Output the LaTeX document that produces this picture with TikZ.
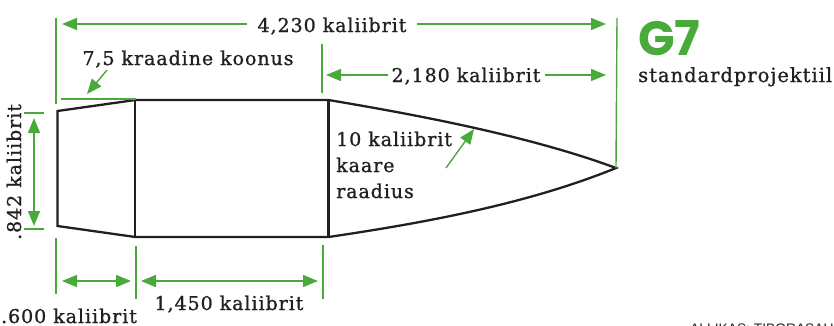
\documentclass[tikz,border=0pt]{standalone}
\usepackage{fontspec}
\setmainfont[LetterSpace=5,FakeBold=1]{DejaVu Serif}
\newfontfamily\creditfont{Liberation Sans}
\newfontfamily\markfont{Poppins}
\usetikzlibrary{arrows.meta}
\definecolor{dimgreen}{HTML}{4AA93B}
\definecolor{inkblack}{HTML}{231F20}
\tikzset{
  dimline/.style={draw=dimgreen,line width=1.4pt},
  dimarrow/.style={dimline,-{Triangle[length=15pt,width=12pt]}},
  dimboth/.style={dimline,{Triangle[length=15pt,width=12pt]}-{Triangle[length=15pt,width=12pt]}},
  hull/.style={draw=inkblack,line width=2.3pt,line join=miter},
  dimlabel/.style={font=\fontsize{19}{19}\selectfont,text=inkblack,inner sep=0pt,anchor=base}
}
\begin{document}
\begin{tikzpicture}[x=1pt,y=-1pt]
  \useasboundingbox (0,0) rectangle (834,325);
  % projectile outline
  \coordinate (tailtop) at (57.5,111);
  \coordinate (tailbot) at (57.5,226);
  \coordinate (bodytl) at (135.3,100);
  \coordinate (bodybl) at (135.3,237);
  \coordinate (bodytr) at (328.5,100);
  \coordinate (bodybr) at (328.5,237);
  \coordinate (tip) at (616,168);
  \draw[hull] (tailtop)--(bodytl)--(bodytr)
    .. controls (430,117) and (535,138) .. (tip)
    .. controls (530,203) and (430,222) .. (bodybr)
    --(bodybl)--(tailbot)--cycle;
  \draw[hull] (bodytl)--(bodybl);
  \draw[hull] (bodytr)--(bodybr);
  % labels
  \path (332,32) node[dimlabel] (total) {4,230 kaliibrit};
  \path (188,65) node[dimlabel] (cone) {7,5 kraadine koonus};
  \path (466,82) node[dimlabel] (nose) {2,180 kaliibrit};
  \path (21,172) node[dimlabel,rotate=90] (boat) {.842 kaliibrit};
  \path (69,323) node[dimlabel] (tail) {.600 kaliibrit};
  \path (229,310) node[dimlabel] (body) {1,450 kaliibrit};
  \path (336,146) node[dimlabel,anchor=base west] (arcone) {10 kaliibrit};
  \path (336,172) node[dimlabel,anchor=base west] (arctwo) {kaare};
  \path (336,198) node[dimlabel,anchor=base west] (arcthree) {raadius};
  \path (638,55) node[anchor=base west,inner sep=0pt,text=dimgreen,font=\markfont\fontsize{48}{48}\selectfont\bfseries] (gseven) {G7};
  \path (638,82) node[dimlabel,anchor=base west,font=\fontsize{19.5}{19.5}\selectfont] (standard) {standardprojektiil};
  \path (690,333) node[anchor=base west,inner sep=0pt,text=inkblack,font=\creditfont\fontsize{13.8}{14}\selectfont] (credit) {ALLIKAS: TIBORASAU};
  % extension lines
  \coordinate (extla) at (56,18);
  \coordinate (extlb) at (56,104);
  \coordinate (extra) at (617,18);
  \coordinate (extma) at (322,44);
  \coordinate (extmb) at (322,93);
  \coordinate (capa) at (61,99);
  \coordinate (capb) at (136,99);
  \coordinate (tickaa) at (24,113);
  \coordinate (tickab) at (44,113);
  \coordinate (tickba) at (24,229);
  \coordinate (tickbb) at (44,229);
  \coordinate (btma) at (56,238);
  \coordinate (btmb) at (56,294);
  \coordinate (btmc) at (136,246);
  \coordinate (btmd) at (136,299);
  \coordinate (btme) at (323,245);
  \coordinate (btmf) at (323,299);
  \draw[dimline] (extla)--(extlb);
  \draw[dimline] (extra)--(tip);
  \draw[dimline] (extma)--(extmb);
  \draw[dimline] (capa)--(capb);
  \draw[dimline] (tickaa)--(tickab);
  \draw[dimline] (tickba)--(tickbb);
  \draw[dimline] (btma)--(btmb);
  \draw[dimline] (btmc)--(btmd);
  \draw[dimline] (btme)--(btmf);
  % dimension arrows
  \coordinate (totall) at (62,24);
  \coordinate (totalr) at (606,24);
  \coordinate (totala) at (247,24);
  \coordinate (totalb) at (417,24);
  \coordinate (nosel) at (326,75);
  \coordinate (noser) at (606,75);
  \coordinate (nosea) at (388,75);
  \coordinate (noseb) at (545,75);
  \coordinate (conea) at (107,70);
  \coordinate (coneb) at (87,94);
  \coordinate (arca) at (446,168);
  \coordinate (arcb) at (474,129);
  \coordinate (boata) at (34,118);
  \coordinate (boatb) at (34,226);
  \coordinate (taila) at (62,281);
  \coordinate (tailb) at (131,281);
  \coordinate (bodya) at (141,281);
  \coordinate (bodyb) at (318,281);
  \draw[dimarrow] (totala)--(totall);
  \draw[dimarrow] (totalb)--(totalr);
  \draw[dimarrow] (nosea)--(nosel);
  \draw[dimarrow] (noseb)--(noser);
  \draw[dimarrow] (conea)--(coneb);
  \draw[dimarrow] (arca)--(arcb);
  \draw[dimboth] (boata)--(boatb);
  \draw[dimboth] (taila)--(tailb);
  \draw[dimboth] (bodya)--(bodyb);
\end{tikzpicture}
\end{document}
